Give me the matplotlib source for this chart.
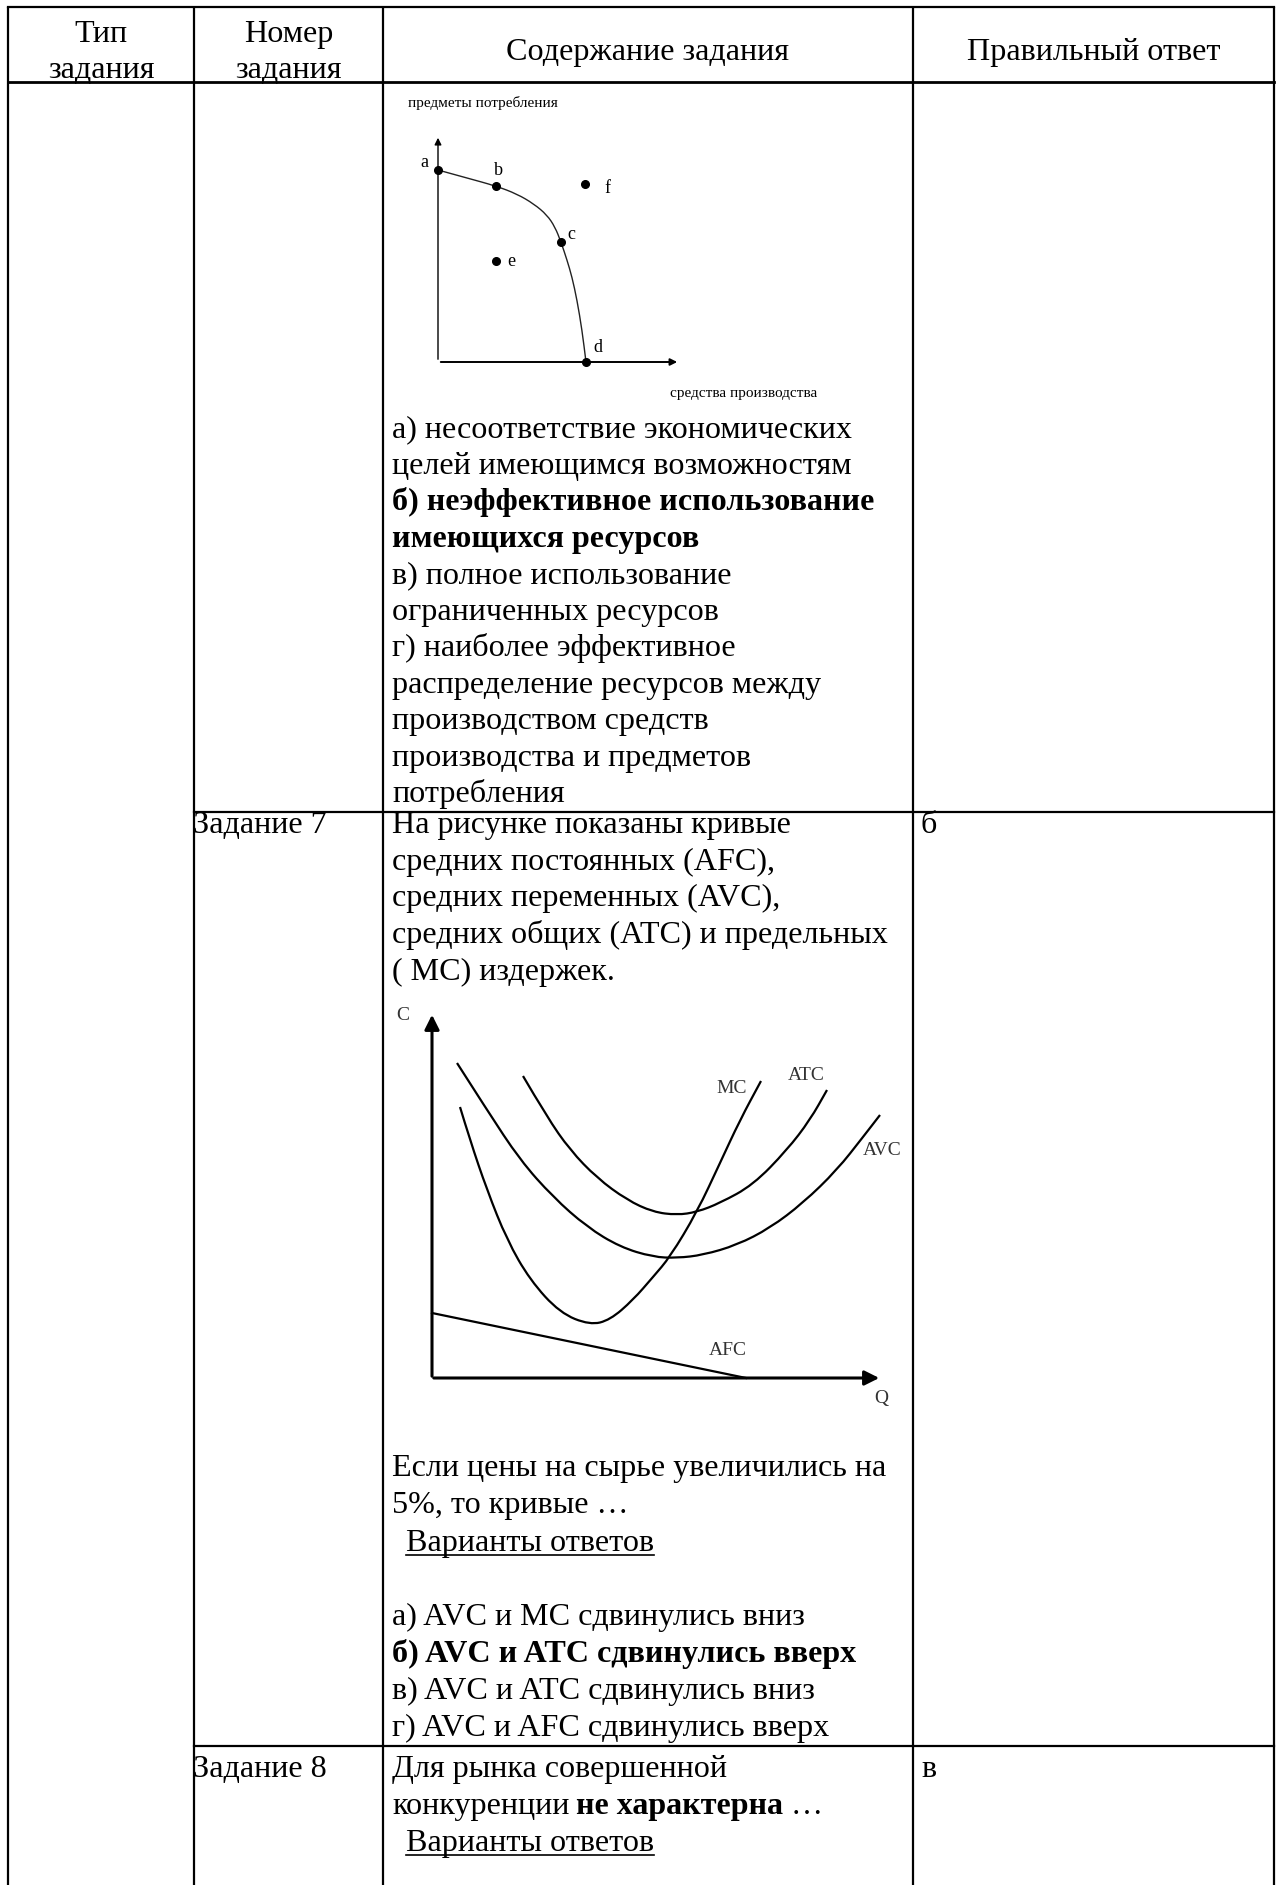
import matplotlib.pyplot as plt
from matplotlib.path import Path
from matplotlib.patches import PathPatch

plt.rcParams['font.family'] = ['Liberation Serif', 'DejaVu Serif']

W, H = 1278, 1885
FS = 23.1

# ---- table text ----
header = [['Тип', 'задания'], ['Номер', 'задания'], ['Содержание задания'], ['Правильный ответ']]
task_names = ['Задание 7', 'Задание 8']
answers = ['б', 'в']

options_6 = [
    ('а) несоответствие экономических', False),
    ('целей имеющимся возможностям', False),
    ('б) неэффективное использование', True),
    ('имеющихся ресурсов', True),
    ('в) полное использование', False),
    ('ограниченных ресурсов', False),
    ('г) наиболее эффективное', False),
    ('распределение ресурсов между', False),
    ('производством средств', False),
    ('производства и предметов', False),
    ('потребления', False),
]
intro_7 = ['На рисунке показаны кривые', 'средних постоянных (AFC),',
           'средних переменных (AVC),', 'средних общих (ATC) и предельных',
           '( MC) издержек.']
question_7 = ['Если цены на сырье увеличились на', '5%, то кривые …']
options_7 = [
    ('а) AVC и MC сдвинулись вниз', False),
    ('б) AVC и ATC сдвинулись вверх', True),
    ('в) AVC и ATC сдвинулись вниз', False),
    ('г) AVC и AFC сдвинулись вверх', False),
]
variants = 'Варианты ответов'

# ---- production possibilities frontier (units = px from origin) ----
ppf_x = [0, 29, 58, 79, 96, 109, 117, 123, 129, 134, 139, 144, 148]
ppf_y = [192, 184, 176, 168, 158, 147, 135, 120, 102, 85, 62, 32, 0]
ppf_pts = {'a': (0, 192), 'b': (58, 176), 'c': (123, 120), 'd': (148, 0),
           'e': (58, 101), 'f': (147, 178)}
ppf_lbl = {'a': (-14, 200), 'b': (60, 192), 'c': (133, 128), 'd': (160, 14),
           'e': (73, 100), 'f': (169, 174)}

# ---- cost curves ----
mc_x = [28, 38, 55, 75, 98, 128, 158, 178, 201, 221, 238, 265, 288, 308, 329]
mc_y = [271, 238, 188, 138, 98, 65, 53, 58, 78, 101, 121, 166, 215, 258, 297]
avc_x = [25, 55, 88, 121, 155, 188, 221, 245, 271, 305, 338, 371, 405, 431, 448]
avc_y = [315, 268, 218, 181, 151, 131, 121, 120, 123, 133, 150, 175, 208, 241, 263]
atc_x = [91, 115, 138, 165, 195, 221, 245, 265, 288, 321, 355, 378, 395]
atc_y = [302, 261, 228, 200, 178, 166, 163, 166, 175, 193, 228, 258, 288]
afc_x = [0, 314]
afc_y = [65, 0]

fig = plt.figure(figsize=(W / 100, H / 100), dpi=100)
page = fig.add_axes([0, 0, 1, 1])
page.set_xlim(0, W)
page.set_ylim(H, 0)
page.axis('off')


def sub_axes(left, top, width, height):
    ax = fig.add_axes([left / W, (H - top - height) / H, width / W, height / H])
    ax.set_xlim(0, width)
    ax.set_ylim(0, height)
    ax.axis('off')
    return ax


def smooth_curve(ax, xs, ys, lw, color='black'):
    # quadratic spline through the midpoints, the read points act as controls
    verts = [(xs[0], ys[0])]
    codes = [Path.MOVETO]
    for i in range(1, len(xs) - 1):
        verts += [(xs[i], ys[i]), ((xs[i] + xs[i + 1]) / 2, (ys[i] + ys[i + 1]) / 2)]
        codes += [Path.CURVE3, Path.CURVE3]
    verts.append((xs[-1], ys[-1]))
    codes.append(Path.LINETO)
    ax.add_patch(PathPatch(Path(verts, codes), fill=False, lw=lw, edgecolor=color,
                           clip_on=False))


def put(x, y, s, bold=False, ha='left'):
    return page.text(x, y, s, fontsize=FS, fontweight='bold' if bold else 'normal',
                     ha=ha, va='baseline')


# grid lines
col_x = [8, 194, 383, 913, 1274]
lw = 1.6
for x in col_x:
    page.plot([x, x], [7, H], color='black', lw=lw, solid_capstyle='butt')
page.plot([col_x[0], col_x[-1]], [7, 7], color='black', lw=lw)
page.plot([col_x[0], col_x[-1]], [82, 82], color='black', lw=2.0)
page.plot([col_x[1], col_x[-1]], [812, 812], color='black', lw=lw)
page.plot([col_x[1], col_x[-1]], [1746, 1746], color='black', lw=lw)

# header
centers = [(col_x[i] + col_x[i + 1]) / 2 for i in range(4)]
for cx, lines in zip(centers, header):
    if len(lines) == 2:
        put(cx, 42, lines[0], ha='center')
        put(cx, 78, lines[1], ha='center')
    else:
        put(cx, 60, lines[0], ha='center')

TX = 392
for k, (s, b) in enumerate(options_6):
    put(TX, 437 + k * 36.5, s, bold=b)

put(193, 833, task_names[0])
put(921, 833, answers[0])
for k, s in enumerate(intro_7):
    put(TX, 833 + k * 36.7, s)

qy = [1476, 1513]
for y, s in zip(qy, question_7):
    put(TX, y, s)

r = fig.canvas.get_renderer()
inv = page.transData.inverted()


def underlined(x, y, s):
    t = put(x, y, s)
    bb = t.get_window_extent(renderer=r)
    x0 = inv.transform((bb.x0, bb.y0))[0]
    x1 = inv.transform((bb.x1, bb.y0))[0]
    page.plot([x0, x1], [y + 4, y + 4], color='black', lw=1.2)


underlined(406, 1551, variants)
for k, (s, b) in enumerate(options_7):
    put(TX, 1625 + k * 37.0, s, bold=b)

put(193, 1777, task_names[1])
put(921, 1777, answers[1])
put(TX, 1777, 'Для рынка совершенной')
t = put(TX, 1814, 'конкуренции')
bb = t.get_window_extent(renderer=r)
xe = inv.transform((bb.x1, bb.y0))[0] + 7
t = put(xe, 1814, 'не характерна', bold=True)
bb = t.get_window_extent(renderer=r)
xe = inv.transform((bb.x1, bb.y0))[0] + 7
put(xe, 1814, '…')
underlined(406, 1851, variants)

# ---- PPF diagram ----
ax1 = sub_axes(438, 135, 242, 227)
ax1.annotate('', xy=(0, 227), xytext=(0, 0),
             arrowprops=dict(arrowstyle='-|>', lw=1.0, color='black', mutation_scale=10))
ax1.annotate('', xy=(242, 0), xytext=(0, 0),
             arrowprops=dict(arrowstyle='-|>', lw=1.4, color='black', mutation_scale=10))
smooth_curve(ax1, ppf_x, ppf_y, 1.0, '#222222')
for k, (px, py) in ppf_pts.items():
    ax1.plot(px, py, 'o', color='black', ms=5.5, clip_on=False)
    lx, ly = ppf_lbl[k]
    ax1.text(lx, ly, k, fontsize=13, ha='center', va='center')
ax1.text(-30, 259, 'предметы потребления', fontsize=11, ha='left', va='center')
ax1.text(232, -31, 'средства производства', fontsize=11, ha='left', va='center')

# ---- cost diagram ----
ax2 = sub_axes(432, 1012, 450, 366)
ax2.annotate('', xy=(0, 366), xytext=(0, -1),
             arrowprops=dict(arrowstyle='-|>', lw=2.2, color='black', mutation_scale=22))
ax2.annotate('', xy=(450, 0), xytext=(-1, 0),
             arrowprops=dict(arrowstyle='-|>', lw=2.2, color='black', mutation_scale=22))
for cx, cy in [(mc_x, mc_y), (avc_x, avc_y), (atc_x, atc_y)]:
    smooth_curve(ax2, cx, cy, 1.6)
ax2.plot(afc_x, afc_y, color='black', lw=1.6, clip_on=False)
lab = dict(fontsize=14, color='#333333')
ax2.text(300, 290, 'MC', ha='center', va='center', **lab)
ax2.text(374, 303, 'ATC', ha='center', va='center', **lab)
ax2.text(431, 228, 'AVC', ha='left', va='center', **lab)
ax2.text(296, 28, 'AFC', ha='center', va='center', **lab)
ax2.text(-29, 363, 'C', ha='center', va='center', **lab)
ax2.text(449, -20, 'Q', ha='center', va='center', **lab)

fig.savefig('out.png', dpi=100)
